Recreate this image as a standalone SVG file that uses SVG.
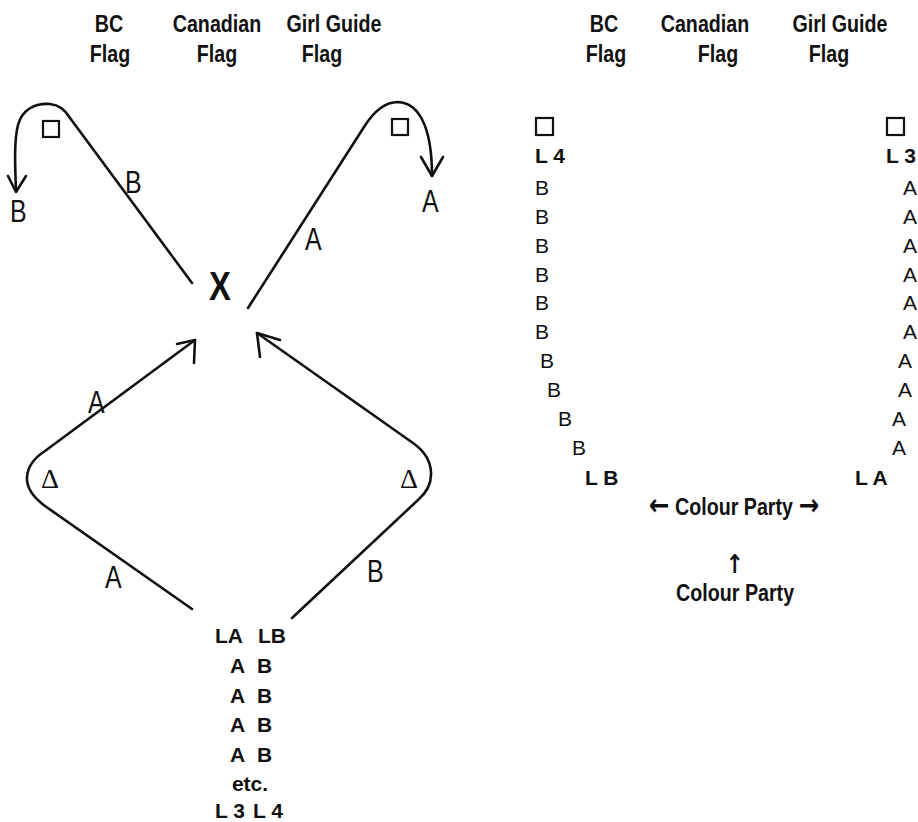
<svg xmlns="http://www.w3.org/2000/svg" width="918" height="822" viewBox="0 0 918 822">
  <style>
    .hdr { font-family: "Liberation Sans", Arial, sans-serif; font-weight: bold; font-size: 24px; text-anchor: middle; fill: #111;
           transform-box: fill-box; transform-origin: center; transform: scaleX(0.82); }
    .big { font-size: 40px; }
    .hand { font-family: "Liberation Sans", Arial, sans-serif; font-size: 32px; fill: #111;
            transform-box: fill-box; transform-origin: left; transform: scaleX(0.78); }
    .list { font-family: "Liberation Sans", sans-serif; font-weight: bold; font-size: 21px; fill: #111; }
    .col { font-family: "Liberation Sans", sans-serif; font-size: 21px; fill: #111; }
    .delta { font-family: "Liberation Serif", serif; font-size: 28px; text-anchor: middle; fill: #111; }
    .arrow { font-family: "DejaVu Sans", sans-serif; font-weight: bold; font-size: 30px; }
    .up { font-size: 26px; }
    .flag { fill: none; stroke: #111; stroke-width: 2.2; }
    .path { fill: none; stroke: #111; stroke-width: 2.6; stroke-linecap: round; stroke-linejoin: round; }
  </style>

  <rect width="918" height="822" fill="#fff"/>

  <!-- Flag headings, left plan -->
  <g id="headers-left">
    <text class="hdr" x="109" y="32">BC</text>
    <text class="hdr" x="110" y="62">Flag</text>
    <text class="hdr" x="217" y="32">Canadian</text>
    <text class="hdr" x="217" y="62">Flag</text>
    <text class="hdr" x="334" y="32">Girl Guide</text>
    <text class="hdr" x="322" y="62">Flag</text>
  </g>

  <!-- Flag headings, right plan -->
  <g id="headers-right">
    <text class="hdr" x="604" y="32">BC</text>
    <text class="hdr" x="606" y="62">Flag</text>
    <text class="hdr" x="705" y="32">Canadian</text>
    <text class="hdr" x="718" y="62">Flag</text>
    <text class="hdr" x="840" y="32">Girl Guide</text>
    <text class="hdr" x="829" y="62">Flag</text>
  </g>

  <!-- Marching routes -->
  <g id="connectors">
    <!-- B line: up to the left flag, round it and away -->
    <path class="path" d="M192,283 L70,118 C66,111 60,105 50,104 C34,103 22,110 18,125 C14,140 15,165 16,191"/>
    <polyline class="path" points="8,176 16,192 26,176"/>
    <!-- A line: up to the right flag, round it and away -->
    <path class="path" d="M248,308 L364,127 C374,111 385,102 398,102 C418,103 432,125 432,176"/>
    <polyline class="path" points="421,157 432,176 443,157"/>
    <!-- A line from the ranks round the left marker to X -->
    <path class="path" d="M192,609 L45,506 Q26,492 27,477 Q28,462 45,451 L195,340"/>
    <polyline class="path" points="177,344 195,340 194,363"/>
    <!-- B line from the ranks round the right marker to X -->
    <path class="path" d="M292,618 L418,500 Q432,488 431,472 Q430,455 413,443 L257,333"/>
    <polyline class="path" points="280,340 257,333 260,357"/>
  </g>

  <!-- Left plan markers -->
  <g id="flag-bc-left"><rect class="flag" x="43" y="121" width="16" height="16"/></g>
  <g id="flag-guide-left"><rect class="flag" x="392" y="119" width="16" height="16"/></g>
  <g id="saluting-point"><text class="hdr big" x="220" y="300">X</text></g>
  <g id="marker-left"><text class="delta" x="50" y="488">Δ</text></g>
  <g id="marker-right"><text class="delta" x="409" y="488">Δ</text></g>

  <!-- Route labels -->
  <g id="route-labels">
    <text class="hand" x="10" y="222">B</text>
    <text class="hand" x="125" y="193">B</text>
    <text class="hand" x="422" y="212">A</text>
    <text class="hand" x="305" y="250">A</text>
    <text class="hand" x="88" y="413">A</text>
    <text class="hand" x="105" y="588">A</text>
    <text class="hand" x="367" y="582">B</text>
  </g>

  <!-- Ranks in twos -->
  <g id="ranks">
    <text class="list" x="215" y="643">LA</text>
    <text class="list" x="258" y="643">LB</text>
    <text class="list" x="230" y="673">A</text><text class="list" x="257" y="673">B</text>
    <text class="list" x="230" y="703">A</text><text class="list" x="257" y="703">B</text>
    <text class="list" x="230" y="732">A</text><text class="list" x="257" y="732">B</text>
    <text class="list" x="230" y="762">A</text><text class="list" x="257" y="762">B</text>
    <text class="list" x="250" y="791" text-anchor="middle">etc.</text>
    <text class="list" x="215" y="818">L 3</text>
    <text class="list" x="253" y="818">L 4</text>
  </g>

  <!-- Right plan: B column -->
  <g id="column-b">
    <rect class="flag" x="536" y="118" width="17" height="17"/>
    <text class="list" x="535" y="163">L 4</text>
    <text class="col" x="535" y="195">B</text>
    <text class="col" x="535" y="224">B</text>
    <text class="col" x="535" y="253">B</text>
    <text class="col" x="535" y="282">B</text>
    <text class="col" x="535" y="310">B</text>
    <text class="col" x="535" y="339">B</text>
    <text class="col" x="540" y="368">B</text>
    <text class="col" x="547" y="397">B</text>
    <text class="col" x="558" y="426">B</text>
    <text class="col" x="572" y="455">B</text>
    <text class="list" x="585" y="485">L B</text>
  </g>

  <!-- Right plan: A column -->
  <g id="column-a">
    <rect class="flag" x="887" y="118" width="17" height="17"/>
    <text class="list" x="886" y="163">L 3</text>
    <text class="col" x="903" y="195">A</text>
    <text class="col" x="903" y="224">A</text>
    <text class="col" x="903" y="253">A</text>
    <text class="col" x="903" y="282">A</text>
    <text class="col" x="903" y="310">A</text>
    <text class="col" x="903" y="339">A</text>
    <text class="col" x="898" y="368">A</text>
    <text class="col" x="898" y="397">A</text>
    <text class="col" x="892" y="426">A</text>
    <text class="col" x="892" y="455">A</text>
    <text class="list" x="855" y="485">L A</text>
  </g>

  <!-- Colour party -->
  <g id="colour-party">
    <text class="hdr" x="734" y="515"><tspan class="arrow">←</tspan> Colour Party <tspan class="arrow">→</tspan></text>
    <text class="hdr arrow up" x="735" y="573">↑</text>
    <text class="hdr" x="735" y="601">Colour Party</text>
  </g>
</svg>
